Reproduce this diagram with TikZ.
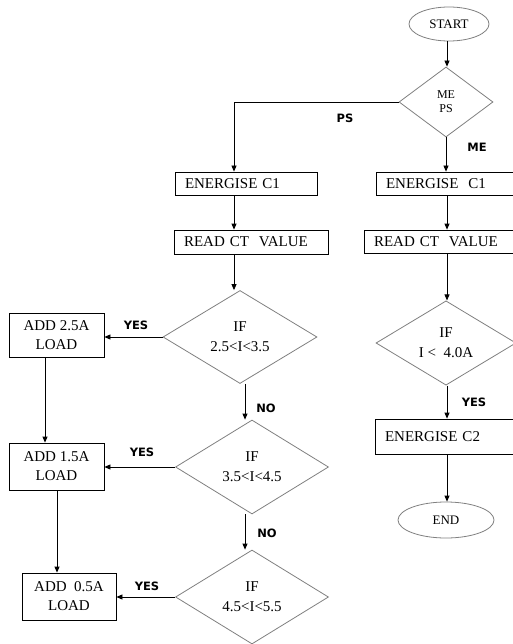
\documentclass[tikz,border=0pt]{standalone}
\usepackage{fontspec}
\setmainfont{Liberation Serif}
\newfontfamily\lblfont{DejaVu Sans}
\usetikzlibrary{shapes.geometric,arrows.meta,calc}
\begin{document}
\begin{tikzpicture}[x=1pt,y=-1pt,
  line width=0.8pt,
  arr/.style={draw=black, -{Triangle[length=6pt,width=5pt]}},
  procbox/.style={draw=black, rectangle, inner xsep=10pt, inner ysep=0pt, align=left, font=\fontsize{15}{19}\selectfont},
  addbox/.style={draw=black, rectangle, inner sep=0pt, align=center, font=\fontsize{15}{19}\selectfont},
  decision/.style={draw=gray, diamond, inner sep=0pt, align=center, font=\fontsize{15}{20}\selectfont},
  terminal/.style={draw=gray, ellipse, inner sep=0pt, font=\fontsize{13}{15}\selectfont},
  lbl/.style={font=\lblfont\bfseries\fontsize{11.5}{13}\selectfont, inner sep=0pt}
]
\fill[white] (0,0) rectangle (513,644);
\useasboundingbox (0,0) rectangle (513,644);

% column coordinates
\coordinate (colL) at (234,0);
\coordinate (colM) at (245,0);
\coordinate (colR) at (447,0);
\coordinate (colA) at (45,0);
\coordinate (colB) at (57,0);

% terminals
\node[terminal, minimum width=80pt, minimum height=34pt] (start) at (449,24) {START};
\node[terminal, minimum width=96pt, minimum height=36pt] (end) at (446,520) {END};

% decisions
\node[decision, minimum width=94pt, minimum height=70pt, font=\fontsize{12}{14}\selectfont] (dec) at (446,102) {ME\\PS};
\node[decision, minimum width=154pt, minimum height=93pt] (if1) at (240,337) {IF\\2.5<I<3.5};
\node[decision, minimum width=153pt, minimum height=94pt] (if2) at (252,467) {IF\\3.5<I<4.5};
\node[decision, minimum width=153pt, minimum height=94pt] (if3) at (252,597) {IF\\4.5<I<5.5};
\node[decision, minimum width=140pt, minimum height=82pt] (if4) at (446,343) {IF\\I <\ \ 4.0A};

% process boxes
\node[procbox, text width=122pt, minimum height=23pt] (eneL) at (246,183.5) {ENERGISE C1};
\node[procbox, text width=118pt, minimum height=23pt] (eneR) at (445,183.5) {ENERGISE\ \ C1};
\node[procbox, text width=134pt, minimum height=24pt] (readL) at (251,242) {READ CT\ \ VALUE};
\node[procbox, text width=130pt, minimum height=23pt] (readR) at (439,241.5) {READ CT\ \ VALUE};
\node[procbox, text width=119pt, minimum height=35pt] (eneC2) at (444.5,436.5) {ENERGISE C2};

% load boxes
\node[addbox, minimum width=95pt, minimum height=44pt] (add25) at (56.5,335) {ADD 2.5A\\LOAD};
\node[addbox, minimum width=95pt, minimum height=47pt] (add15) at (56.5,466.5) {ADD 1.5A\\LOAD};
\node[addbox, minimum width=94pt, minimum height=47pt] (add05) at (69,596.5) {ADD\ \ 0.5A\\LOAD};

% connectors
\draw[arr] (start.south -| colR) -- (dec.north -| colR);
\draw[arr] (dec.west) -| (eneL.north -| colL);
\draw[arr] (dec.south) -- (eneR.north -| dec.south);
\draw[arr] (eneL.south -| colL) -- (readL.north -| colL);
\draw[arr] (eneR.south -| colR) -- (readR.north -| colR);
\draw[arr] (readL.south -| colL) -- (if1.north -| colL);
\draw[arr] (readR.south -| colR) -- (if4.north -| colR);
\draw[arr] (if4.south -| colR) -- (eneC2.north -| colR);
\draw[arr] (eneC2.south -| colR) -- (end.north -| colR);
\draw[arr] (if1.south -| colM) -- (if2.north -| colM);
\draw[arr] (if2.south -| colM) -- (if3.north -| colM);
\draw[arr] (if1.west) -- (if1.west -| add25.east);
\draw[arr] (if2.west) -- (if2.west -| add15.east);
\draw[arr] (if3.west) -- (if3.west -| add05.east);
\draw[arr] (add25.south -| colA) -- (add15.north -| colA);
\draw[arr] (add15.south -| colB) -- (add05.north -| colB);

% labels
\node[lbl] (lps) at (345,118) {PS};
\node[lbl] (lme) at (477,147) {ME};
\node[lbl] (lyes1) at (136,325) {YES};
\node[lbl] (lno1) at (266,408) {NO};
\node[lbl] (lyes2) at (142,452) {YES};
\node[lbl] (lno2) at (267,533) {NO};
\node[lbl] (lyes3) at (147,586) {YES};
\node[lbl] (lyes4) at (474,402) {YES};
\end{tikzpicture}
\end{document}
